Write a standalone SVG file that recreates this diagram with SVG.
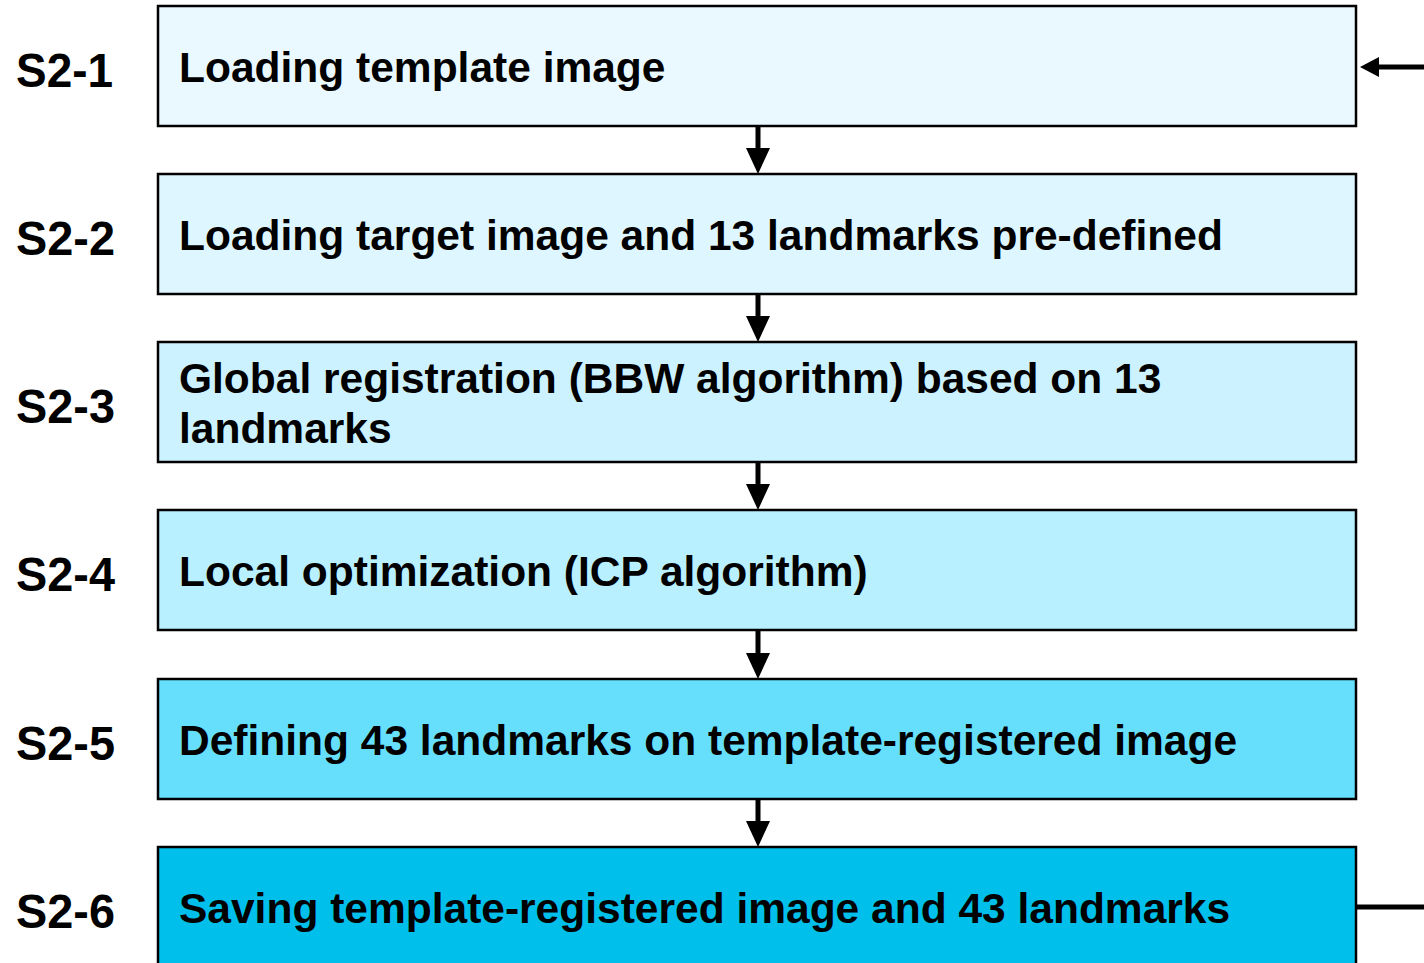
<svg xmlns="http://www.w3.org/2000/svg" width="1424" height="963" viewBox="0 0 1424 963">
  <defs>
    <style>
      .box { stroke: #000; stroke-width: 2.5; }
      .txt { font-family: "Liberation Sans", Arial, sans-serif; font-weight: bold; font-size: 42.5px; fill: #000; }
      .lbl { font-family: "Liberation Sans", Arial, sans-serif; font-weight: bold; font-size: 49px; fill: #000; }
      .line { stroke: #000; stroke-width: 5; fill: none; }
      .head { fill: #000; }
    </style>
  </defs>
  <rect width="1424" height="963" fill="#fff"/>

  <g id="step1">
    <text class="lbl" x="16" y="87" textLength="97" lengthAdjust="spacingAndGlyphs">S2-1</text>
    <rect class="box" x="158" y="6" width="1198" height="120" fill="#eaf9ff"/>
    <text class="txt" x="179" y="82">Loading template image</text>
  </g>
  <g id="step2">
    <text class="lbl" x="16" y="255" textLength="99" lengthAdjust="spacingAndGlyphs">S2-2</text>
    <rect class="box" x="158" y="174" width="1198" height="120" fill="#def6ff"/>
    <text class="txt" x="179" y="250">Loading target image and 13 landmarks pre-defined</text>
  </g>
  <g id="step3">
    <text class="lbl" x="16" y="423" textLength="99" lengthAdjust="spacingAndGlyphs">S2-3</text>
    <rect class="box" x="158" y="342" width="1198" height="120" fill="#ccf2ff"/>
    <text class="txt" x="179" y="393">Global registration (BBW algorithm) based on 13</text>
    <text class="txt" x="179" y="443">landmarks</text>
  </g>
  <g id="step4">
    <text class="lbl" x="16" y="591" textLength="99" lengthAdjust="spacingAndGlyphs">S2-4</text>
    <rect class="box" x="158" y="510" width="1198" height="120" fill="#b9f0ff"/>
    <text class="txt" x="179" y="586">Local optimization (ICP algorithm)</text>
  </g>
  <g id="step5">
    <text class="lbl" x="16" y="760" textLength="99" lengthAdjust="spacingAndGlyphs">S2-5</text>
    <rect class="box" x="158" y="679" width="1198" height="120" fill="#66dffd"/>
    <text class="txt" x="179" y="755">Defining 43 landmarks on template-registered image</text>
  </g>
  <g id="step6">
    <text class="lbl" x="16" y="928" textLength="99" lengthAdjust="spacingAndGlyphs">S2-6</text>
    <rect class="box" x="158" y="847" width="1198" height="130" fill="#00bfea"/>
    <text class="txt" x="179" y="923">Saving template-registered image and 43 landmarks</text>
  </g>

  <g id="connectors">
    <g id="down-arrows">
      <line class="line" x1="758" y1="126" x2="758" y2="150"/>
      <polygon class="head" points="746,148 770,148 758,174"/>
      <line class="line" x1="758" y1="294" x2="758" y2="318"/>
      <polygon class="head" points="746,316 770,316 758,342"/>
      <line class="line" x1="758" y1="462" x2="758" y2="486"/>
      <polygon class="head" points="746,484 770,484 758,510"/>
      <line class="line" x1="758" y1="630" x2="758" y2="655"/>
      <polygon class="head" points="746,653 770,653 758,679"/>
      <line class="line" x1="758" y1="799" x2="758" y2="823"/>
      <polygon class="head" points="746,821 770,821 758,847"/>
    </g>
    <g id="loop">
      <line class="line" x1="1424" y1="67" x2="1376" y2="67"/>
      <polygon class="head" points="1360,67 1379,57 1379,77"/>
      <line class="line" x1="1356" y1="907" x2="1424" y2="907"/>
    </g>
  </g>
</svg>
